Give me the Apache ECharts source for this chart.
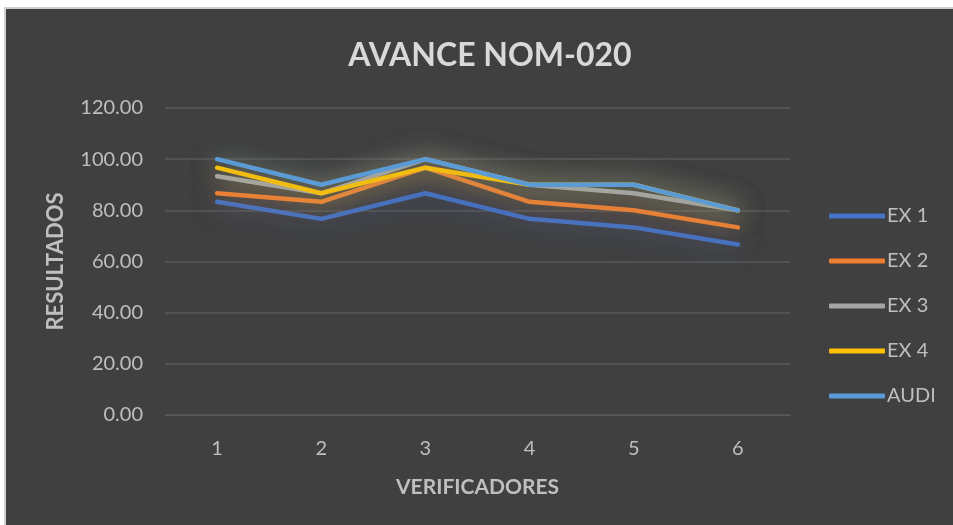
<!DOCTYPE html>
<html>
<head>
<meta charset="utf-8">
<script src="https://cdn.jsdelivr.net/npm/echarts@6/dist/echarts.min.js"></script>
<style>
  html, body { margin: 0; padding: 0; background: #ffffff; }
  .frame {
    position: absolute;
    left: 4px;
    top: 7px;
    width: 949px;
    height: 518px;
    border-top: 2px solid #d0d0d0;
    border-left: 2px solid #d0d0d0;
  }
  #chart { width: 947px; height: 516px; }
</style>
</head>
<body>
<div class="frame"><div id="chart"></div></div>
<script>
const categories = ['1', '2', '3', '4', '5', '6']
const seriesNames = ['EX 1', 'EX 2', 'EX 3', 'EX 4', 'AUDI']
const ex1 = [83.33, 76.67, 86.67, 76.67, 73.33, 66.67]
const ex2 = [86.67, 83.33, 96.67, 83.33, 80.00, 73.33]
const ex3 = [93.33, 86.67, 100.00, 90.00, 86.67, 80.00]
const ex4 = [96.67, 86.67, 96.67, 90.00, 90.00, 80.00]
const audi = [100.00, 90.00, 100.00, 90.00, 90.00, 80.00]
const colors = ['#4472c4', '#ed7d31', '#a5a5a5', '#ffc000', '#5b9bd5']
const glows = ['rgba(68,114,196,0.7)', 'rgba(237,125,49,0.6)', 'rgba(190,200,170,0.6)',
  'rgba(255,192,0,0.55)', 'rgba(91,155,213,0.7)']

const allData = [ex1, ex2, ex3, ex4, audi]
const font = 'Lato, "Open Sans", sans-serif'

const chart = echarts.init(document.getElementById('chart'))

chart.setOption({
  backgroundColor: '#404040',
  animation: false,
  title: {
    text: 'AVANCE NOM-020',
    left: 479,
    textAlign: 'center',
    top: 26,
    textStyle: {
      color: '#d9d9d9',
      fontFamily: font,
      fontSize: 32,
      fontWeight: 'bold'
    }
  },
  legend: {
    orient: 'vertical',
    left: 818,
    top: 192,
    icon: 'roundRect',
    itemWidth: 56,
    itemHeight: 5,
    itemGap: 25,
    data: seriesNames,
    textStyle: {
      color: '#bfbfbf',
      fontFamily: font,
      fontSize: 20,
      lineHeight: 20,
      padding: [0, 0, 0, -3]
    }
  },
  grid: {
    left: 159,
    right: 163,
    top: 99,
    bottom: 110
  },
  xAxis: {
    type: 'category',
    data: categories,
    name: 'VERIFICADORES',
    nameLocation: 'middle',
    nameGap: 62,
    nameTextStyle: {
      color: '#bfbfbf',
      fontFamily: font,
      fontSize: 21,
      fontWeight: 'bold'
    },
    axisLine: { lineStyle: { color: '#595959' } },
    axisTick: { show: false },
    axisLabel: {
      color: '#bfbfbf',
      fontFamily: font,
      fontSize: 20,
      margin: 24
    }
  },
  yAxis: {
    type: 'value',
    min: 0,
    max: 120,
    interval: 20,
    name: 'RESULTADOS',
    nameLocation: 'middle',
    nameGap: 98,
    nameTextStyle: {
      color: '#bfbfbf',
      fontFamily: font,
      fontSize: 22,
      fontWeight: 'bold'
    },
    axisLine: { show: false },
    axisTick: { show: false },
    axisLabel: {
      color: '#bfbfbf',
      fontFamily: font,
      fontSize: 20,
      margin: 22,
      formatter: v => v.toFixed(2)
    },
    splitLine: { lineStyle: { color: '#595959', width: 1.5 } }
  },
  series: seriesNames.map((name, i) => ({
    name: name,
    type: 'line',
    data: allData[i],
    symbol: 'none',
    color: colors[i],
    lineStyle: {
      width: 4.5,
      cap: 'round',
      join: 'round',
      color: colors[i],
      shadowBlur: 26,
      shadowColor: glows[i]
    }
  }))
})
</script>
</body>
</html>
